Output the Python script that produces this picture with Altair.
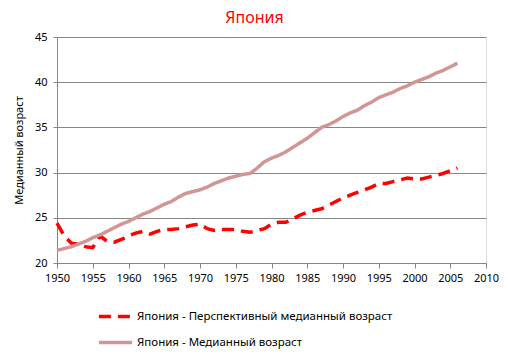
import altair as alt
import pandas as pd

years = list(range(1950, 2007))
median_age = [21.4, 21.6, 21.8, 22.1, 22.4, 22.8, 23.1, 23.5, 23.9, 24.3,
              24.6, 25.0, 25.4, 25.7, 26.1, 26.5, 26.8, 27.3, 27.7, 27.9,
              28.1, 28.4, 28.8, 29.1, 29.4, 29.6, 29.8, 29.9, 30.5, 31.2,
              31.6, 31.9, 32.3, 32.8, 33.3, 33.8, 34.4, 35.0, 35.3, 35.7,
              36.2, 36.6, 36.9, 37.4, 37.8, 38.3, 38.6, 38.9, 39.3, 39.6,
              40.0, 40.3, 40.6, 41.0, 41.3, 41.7, 42.1]
prospective_age = [24.4, 23.0, 22.2, 22.1, 21.8, 21.7, 23.0, 22.4, 22.3, 22.6,
                   23.0, 23.3, 23.5, 23.2, 23.5, 23.7, 23.7, 23.8, 24.0, 24.2,
                   24.3, 23.8, 23.6, 23.7, 23.7, 23.7, 23.5, 23.4, 23.6, 23.8,
                   24.3, 24.5, 24.5, 24.9, 25.3, 25.6, 25.8, 26.0, 26.4, 26.8,
                   27.2, 27.5, 27.8, 28.1, 28.4, 28.8, 28.8, 29.0, 29.2, 29.4,
                   29.3, 29.3, 29.5, 29.7, 29.9, 30.2, 30.5]
series_names = ["Япония - Перспективный медианный возраст",
                "Япония - Медианный возраст"]
x_ticks = list(range(1950, 2011, 5))
y_ticks = list(range(20, 46, 5))

rows = []
for y, a, p in zip(years, median_age, prospective_age):
    rows.append({"year": y, "value": p, "series": series_names[0]})
    rows.append({"year": y, "value": a, "series": series_names[1]})
df = pd.DataFrame(rows)

FONT = "Noto Sans"

legend_cfg = dict(title=None, orient="none", legendX=40, legendY=261,
                  direction="vertical", symbolType="stroke",
                  symbolSize=1100, symbolStrokeWidth=3.5,
                  labelFont=FONT, labelFontSize=11.5, labelOffset=3,
                  labelColor="black", rowPadding=-14, labelLimit=400)

chart = alt.Chart(df).mark_line(strokeWidth=3.5, strokeCap="butt").encode(
    x=alt.X("year:Q",
            scale=alt.Scale(domain=[1950, 2010], nice=False, zero=False),
            axis=alt.Axis(values=x_ticks, format="d", title=None, grid=False,
                          labelOverlap=False, labelFlush=False,
                          domainColor="#868686", tickColor="#868686", tickSize=5,
                          labelColor="black", labelFontSize=11, labelFont=FONT,
                          labelPadding=4)),
    y=alt.Y("value:Q",
            scale=alt.Scale(domain=[20, 45], nice=False, zero=False),
            axis=alt.Axis(values=y_ticks, title="Медианный возраст", grid=True,
                          labelOverlap=False, labelFlush=False,
                          gridColor="#868686", domainColor="#868686",
                          tickColor="#868686", tickSize=4,
                          labelColor="black", labelFontSize=11, labelFont=FONT,
                          labelPadding=6, titleFont=FONT, titleFontSize=11,
                          titleFontWeight="normal", titleColor="black",
                          titlePadding=10)),
    color=alt.Color("series:N",
                    scale=alt.Scale(domain=series_names, range=["#FF0000", "#D29595"]),
                    legend=alt.Legend(**legend_cfg)),
    strokeDash=alt.StrokeDash("series:N",
                              scale=alt.Scale(domain=series_names, range=[[12, 7], [1, 0]]),
                              legend=alt.Legend(**legend_cfg)),
).properties(
    width=429,
    height=226,
    title=alt.TitleParams("Япония", color="#FF0000", fontSize=16, fontWeight="normal",
                          font=FONT, anchor="middle", dx=-17, offset=5),
    autosize=alt.AutoSizeParams(type="none"),
    padding={"left": 57, "top": 37, "right": 22, "bottom": 91},
).configure_view(stroke=None).configure(background="white")

chart.save("out.html", embed_options={"renderer": "svg", "actions": False})
